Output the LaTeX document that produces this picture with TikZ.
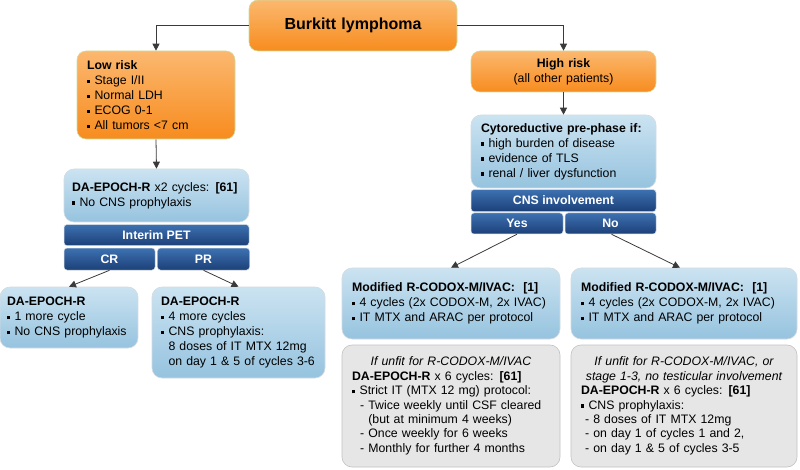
\documentclass[tikz,border=0pt]{standalone}
\usepackage{fontspec}
\setmainfont{Liberation Sans}
\usepackage{tikz}
\usetikzlibrary{arrows.meta,positioning}

\definecolor{orangetop}{HTML}{FBB86F}
\definecolor{orangebot}{HTML}{F78C1E}
\definecolor{orangeline}{HTML}{CFDDA0}
\definecolor{bluetop}{HTML}{CBE3F1}
\definecolor{bluebot}{HTML}{96C3DF}
\definecolor{blueline}{HTML}{D3DBE2}
\definecolor{bartop}{HTML}{3D71B1}
\definecolor{barbot}{HTML}{1C4078}
\definecolor{graybg}{HTML}{E6E6E6}
\definecolor{grayline}{HTML}{C2C2C2}
\definecolor{arrowline}{HTML}{3A3A3A}

\newcommand{\sq}{\raisebox{0.22ex}{\rule{0.28em}{0.28em}}}

\begin{document}
\begin{tikzpicture}[x=1pt,y=-1pt,>={Triangle[length=7pt,width=7pt]},
  every node/.style={font=\fontsize{12.3}{15}\selectfont},
  orangebox/.style={draw=orangeline,line width=0.6pt,rounded corners=9pt,
    top color=orangetop,bottom color=orangebot,inner xsep=10pt,align=left},
  bluebox/.style={draw=blueline,line width=0.6pt,rounded corners=10pt,
    top color=bluetop,bottom color=bluebot,inner xsep=10pt,align=left},
  graybox/.style={draw=grayline,line width=0.6pt,rounded corners=10pt,
    fill=graybg,inner xsep=10pt,align=left,
    font=\fontsize{12.3}{14.4}\selectfont},
  bar/.style={draw=blueline,line width=0.5pt,rounded corners=3pt,
    top color=bartop,bottom color=barbot,text=white,inner sep=0pt,
    minimum height=21pt,font=\fontsize{12.3}{15}\selectfont\bfseries},
  link/.style={->,draw=arrowline,line width=0.8pt}]
  \useasboundingbox (0,0) rectangle (800,470);

  % top of the tree
  \node[orangebox,text width=188pt,minimum height=51pt,align=center,
    font=\fontsize{16}{19}\selectfont\bfseries] (burkitt) at (353,25.5) {Burkitt lymphoma};
  \node[orangebox,text width=138pt,minimum height=88pt] (low_risk) at (156,95)
    {\textbf{Low risk}\\ \sq\ Stage I/II\\ \sq\ Normal LDH\\ \sq\ ECOG 0-1\\ \sq\ All tumors <7 cm};
  \node[orangebox,text width=165pt,minimum height=41pt,align=center] (high_risk) at (563.5,71.5)
    {\textbf{High risk}\\(all other patients)};

  % low risk branch
  \node[bluebox,text width=169pt,inner xsep=8pt,minimum height=53pt] (epoch2) at (156.5,195.5)
    {\textbf{DA-EPOCH-R}\ x2 cycles: \textbf{[61]}\\ \sq\ No CNS prophylaxis};
  \node[bar,minimum width=185pt] (pet) [below=2pt of epoch2] {Interim PET};
  \node[bar,minimum width=91pt,minimum height=22pt] (pet_cr) [below right=2pt and 0pt of pet.south west] {CR};
  \node[bar,minimum width=92pt,minimum height=22pt] (pet_pr) [right=2pt of pet_cr] {PR};
  \node[bluebox,text width=124pt,inner xsep=7pt,minimum height=61pt] (ep_cr) at (69,317.5)
    {\textbf{DA-EPOCH-R}\\ \sq\ 1 more cycle\\ \sq\ No CNS prophylaxis};
  \node[bluebox,text width=155pt,inner xsep=9pt,minimum height=91pt] (ep_pr) at (238.5,332.5)
    {\textbf{DA-EPOCH-R}\\ \sq\ 4 more cycles\\ \sq\ CNS prophylaxis:\\
     \phantom{\sq\ }8 doses of IT MTX 12mg\\ \phantom{\sq\ }on day 1 \& 5 of cycles 3-6};

  % high risk branch
  \node[bluebox,text width=165pt,minimum height=73pt] (cyto) at (563.5,151.5)
    {\textbf{Cytoreductive pre-phase if:}\\ \sq\ high burden of disease\\
     \sq\ evidence of TLS\\ \sq\ renal / liver dysfunction};
  \node[bar,minimum width=185pt,minimum height=22pt] (cns) [below=1pt of cyto] {CNS involvement};
  \node[bar,minimum width=92pt] (cns_yes) at (517,223.5) {Yes};
  \node[bar,minimum width=91pt] (cns_no) at (610.5,223.5) {No};

  \node[bluebox,text width=198pt,minimum height=71pt] (mod_yes) at (451,303.5)
    {\textbf{Modified R-CODOX-M/IVAC:\ \ [1]}\\ \sq\ 4 cycles (2x CODOX-M, 2x IVAC)\\
     \sq\ IT MTX and ARAC per protocol};
  \node[bluebox,text width=206pt,minimum height=71pt] (mod_no) at (684,303.5)
    {\textbf{Modified R-CODOX-M/IVAC:\ \ [1]}\\ \sq\ 4 cycles (2x CODOX-M, 2x IVAC)\\
     \sq\ IT MTX and ARAC per protocol};
  \node[graybox,text width=198pt,minimum height=122pt] (unfit_yes) at (451,406)
    {\makebox[\hsize][c]{\itshape If unfit for R-CODOX-M/IVAC}\\
     \textbf{DA-EPOCH-R}\ x 6 cycles: \textbf{[61]}\\
     \sq\ Strict IT (MTX 12 mg) protocol:\\
     \ \ - Twice weekly until CSF cleared\\
     \ \ \ \ (but at minimum 4 weeks)\\
     \ \ - Once weekly for 6 weeks\\
     \ \ - Monthly for further 4 months};
  \node[graybox,text width=206pt,minimum height=122pt] (unfit_no) at (684,406)
    {\makebox[\hsize][c]{\itshape If unfit for R-CODOX-M/IVAC, or}\\
     \makebox[\hsize][c]{\itshape stage 1-3, no testicular involvement}\\
     \textbf{DA-EPOCH-R}\ x 6 cycles: \textbf{[61]}\\
     \sq\ CNS prophylaxis:\\
     \ - 8 doses of IT MTX 12mg\\
     \ - on day 1 of cycles 1 and 2,\\
     \ - on day 1 \& 5 of cycles 3-5};

  % connectors
  \coordinate (no_end) at ([xshift=-4pt]mod_no.north);
  \draw[link] (burkitt.west) -| (low_risk.north);
  \draw[link] (burkitt.east) -| (high_risk.north);
  \draw[link] (low_risk.south) -- (epoch2.north);
  \draw[link] (high_risk.south) -- (cyto.north);
  \draw[link] (pet_cr.south) -- (ep_cr.north);
  \draw[link] (pet_pr.south) -- (ep_pr.north);
  \draw[link] (cns_yes.south) -- (mod_yes.north);
  \draw[link] ([xshift=1pt]cns_no.south) -- (no_end);
\end{tikzpicture}
\end{document}
